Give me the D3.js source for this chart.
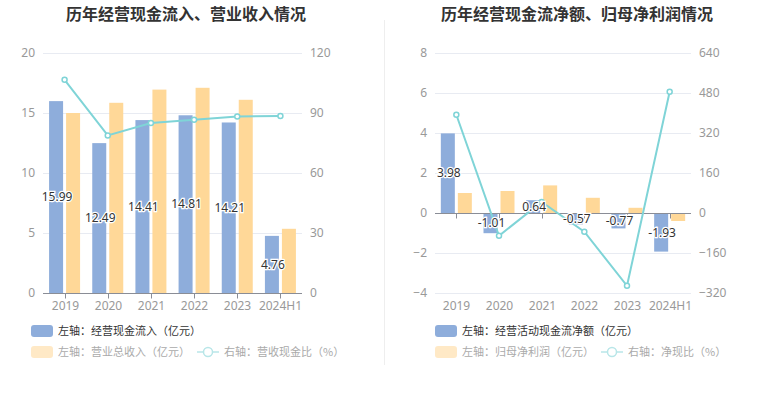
<!DOCTYPE html>
<html><head><meta charset="utf-8">
<script src="https://cdn.jsdelivr.net/npm/d3@7"></script>
<style>body{margin:0;background:#fff;}svg{display:block;font-family:"Noto Sans CJK SC","Noto Sans",sans-serif;}</style>
</head><body><svg id="c" width="765" height="393"></svg>
<script>
const categories = ["2019","2020","2021","2022","2023","2024H1"];
// left chart
const cashIn = [15.99,12.49,14.41,14.81,14.21,4.76];
const revenue = [15.0,15.85,16.95,17.1,16.1,5.35];
const cashRatio = [106.6,78.8,85.0,86.6,88.3,88.5];
const leftTicksL = [0,5,10,15,20];
const leftTicksR = [0,30,60,90,120];
// right chart
const netCash = [3.98,-1.01,0.64,-0.57,-0.77,-1.93];
const netProfit = [1.0,1.1,1.38,0.76,0.26,-0.4];
const netRatio = [393,-91,44,-75,-291,485];
const rightTicksL = [-4,-2,0,2,4,6,8];
const rightTicksR = [-320,-160,0,160,320,480,640];

const C_BLUE="#8eaddb", C_ORANGE="#ffd898", C_LINE="#7fd4d7";
const svg = d3.select("#c");

svg.append("line").attr("x1",384.5).attr("x2",384.5).attr("y1",20).attr("y2",365).attr("stroke","#eeeeee");

function drawChart(o){
  const g = svg.append("g");
  g.append("text").attr("x",o.cx).attr("y",20).attr("text-anchor","middle")
    .attr("font-size",16).attr("font-weight","bold").attr("fill","#333").text(o.title);
  const x = d3.scaleBand().domain(categories).range([o.x0,o.x1]);
  const yL = d3.scaleLinear().domain(o.domL).range([293,53]);
  const yR = d3.scaleLinear().domain(o.domR).range([293,53]);
  // grid
  o.ticksL.forEach(t=>{
    if(t===0) return;
    g.append("line").attr("x1",o.x0).attr("x2",o.x1).attr("y1",Math.round(yL(t))+0.5).attr("y2",Math.round(yL(t))+0.5).attr("stroke","#e8ebf2");
  });
  if(o.domL[0] < 0){
    g.append("line").attr("x1",o.x0).attr("x2",o.x1).attr("y1",293.5).attr("y2",293.5).attr("stroke","#e8ebf2");
  }
  // left axis labels
  const axL = d3.axisLeft(yL).tickValues(o.ticksL).tickSize(0).tickPadding(0);
  const gl = g.append("g").attr("transform",`translate(${o.x0-8},0)`).call(axL);
  gl.select(".domain").remove();
  gl.selectAll("text").attr("fill","#999").attr("font-size",12).attr("font-family","Noto Sans, sans-serif");
  const axR = d3.axisRight(yR).tickValues(o.ticksR).tickSize(0).tickPadding(0);
  const gr = g.append("g").attr("transform",`translate(${o.x1+8},0)`).call(axR);
  gr.select(".domain").remove();
  gr.selectAll("text").attr("fill","#999").attr("font-size",12).attr("font-family","Noto Sans, sans-serif");
  // bars
  const bw = 14, gap = 3;
  const zero = yL(0);
  categories.forEach((c,i)=>{
    const cx = x(c)+x.bandwidth()/2;
    const v1 = o.s1[i], v2 = o.s2[i];
    g.append("rect").attr("x",cx-gap/2-bw).attr("width",bw)
      .attr("y",Math.min(yL(v1),zero)).attr("height",Math.abs(yL(v1)-zero)).attr("fill",C_BLUE);
    g.append("rect").attr("x",cx+gap/2).attr("width",bw)
      .attr("y",Math.min(yL(v2),zero)).attr("height",Math.abs(yL(v2)-zero)).attr("fill",C_ORANGE);
  });
  // x axis line
  g.append("line").attr("x1",o.x0).attr("x2",o.x1).attr("y1",Math.round(zero)+0.5).attr("y2",Math.round(zero)+0.5).attr("stroke","#8a8d96");
  categories.forEach(c=>{
    const cx = Math.round(x(c)+x.bandwidth()/2)+0.5;
    g.append("line").attr("x1",cx).attr("x2",cx).attr("y1",Math.round(zero)+0.5).attr("y2",Math.round(zero)+5.5).attr("stroke","#8a8d96");
    g.append("text").attr("x",cx).attr("y",310).attr("text-anchor","middle").attr("fill","#999")
      .attr("font-size",12).attr("font-family","Noto Sans, sans-serif").text(c);
  });
  // line
  const line = d3.line().x((d,i)=>x(categories[i])+x.bandwidth()/2).y(d=>yR(d));
  g.append("path").datum(o.s3).attr("d",line).attr("fill","none").attr("stroke",C_LINE).attr("stroke-width",2);
  o.s3.forEach((d,i)=>{
    g.append("circle").attr("cx",x(categories[i])+x.bandwidth()/2).attr("cy",yR(d)).attr("r",2.5)
      .attr("fill","#fff").attr("stroke",C_LINE).attr("stroke-width",1.5);
  });
  // labels
  categories.forEach((c,i)=>{
    const cx = x(c)+x.bandwidth()/2 - gap/2 - bw/2;
    const v = o.s1[i];
    const my = (yL(v)+zero)/2;
    g.append("text").attr("x",cx+1).attr("y",my).attr("dy","0.35em").attr("text-anchor","middle")
      .attr("font-size",12).attr("font-family","Noto Sans, sans-serif").attr("fill","#333")
      .attr("stroke","#fff").attr("stroke-width",2.5).attr("paint-order","stroke").text(v.toFixed(2));
  });
  // legend
  const lx = o.legX;
  g.append("rect").attr("x",lx).attr("y",325).attr("width",22).attr("height",12).attr("rx",3).attr("fill",C_BLUE);
  g.append("text").attr("x",lx+27).attr("y",335).attr("font-size",11).attr("fill","#333").text(o.leg1);
  g.append("rect").attr("x",lx).attr("y",346).attr("width",22).attr("height",12).attr("rx",3).attr("fill","#ffe9c6");
  g.append("text").attr("x",lx+27).attr("y",356).attr("font-size",11).attr("fill","#aaa").text(o.leg2);
  const l2 = o.leg3X;
  g.append("line").attr("x1",l2).attr("x2",l2+22).attr("y1",352).attr("y2",352).attr("stroke","#b8e6e8").attr("stroke-width",1.5);
  g.append("circle").attr("cx",l2+11).attr("cy",352).attr("r",4.5).attr("fill","#fff").attr("stroke","#b8e6e8").attr("stroke-width",1.5);
  g.append("text").attr("x",l2+27).attr("y",356).attr("font-size",11).attr("fill","#aaa").text(o.leg3);
}

drawChart({title:"历年经营现金流入、营业收入情况", cx:186, x0:43, x1:302,
  domL:[0,20], domR:[0,120], ticksL:leftTicksL, ticksR:leftTicksR,
  s1:cashIn, s2:revenue, s3:cashRatio, legX:31, leg3X:197,
  leg1:"左轴：经营现金流入（亿元）", leg2:"左轴：营业总收入（亿元）", leg3:"右轴：营收现金比（%）"});
drawChart({title:"历年经营现金流净额、归母净利润情况", cx:577, x0:435, x1:691,
  domL:[-4,8], domR:[-320,640], ticksL:rightTicksL, ticksR:rightTicksR,
  s1:netCash, s2:netProfit, s3:netRatio, legX:435, leg3X:601,
  leg1:"左轴：经营活动现金流净额（亿元）", leg2:"左轴：归母净利润（亿元）", leg3:"右轴：净现比（%）"});
</script></body></html>
